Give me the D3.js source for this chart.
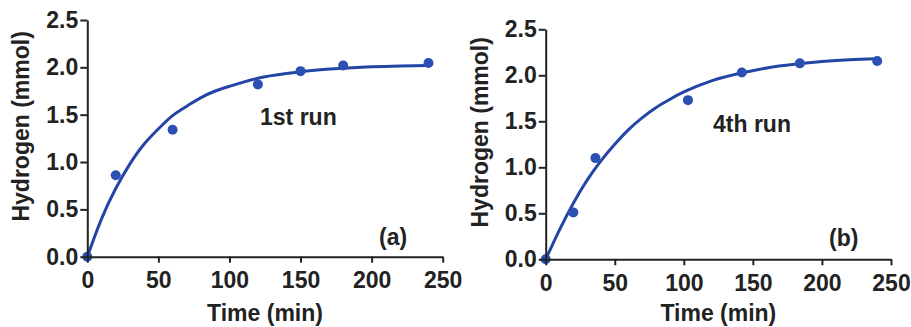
<!DOCTYPE html>
<html>
<head>
<meta charset="utf-8">
<script src="https://cdn.jsdelivr.net/npm/d3@7"></script>
<style>
  html, body { margin: 0; padding: 0; background: #fff; }
  svg { display: block; }
  text { font-family: "Liberation Sans", Arial, sans-serif; font-weight: bold; }
</style>
</head>
<body>
<svg id="chart" width="911" height="327"></svg>
<script>
// ---- Data ----
const xTicks = [0, 50, 100, 150, 200, 250];
const yTicks = [0.0, 0.5, 1.0, 1.5, 2.0, 2.5];
const xLabel = "Time (min)";
const yLabel = "Hydrogen (mmol)";

// Panel (a) - 1st run
const runATime = [0, 20, 60, 120, 150, 180, 240];
const runAH2   = [0, 0.86, 1.34, 1.82, 1.96, 2.02, 2.045];
const fitATime = [0, 10, 20, 30, 40, 50, 60, 70, 80, 90, 100, 120, 140, 160, 180, 200, 220, 240];
const fitAH2   = [0, 0.40, 0.72, 0.98, 1.19, 1.35, 1.49, 1.59, 1.68, 1.75, 1.80, 1.885, 1.935, 1.97, 1.99, 2.005, 2.014, 2.02];

// Panel (b) - 4th run
const runBTime = [0, 20, 36, 103, 142, 184, 240];
const runBH2   = [0, 0.51, 1.10, 1.73, 2.03, 2.13, 2.155];
const fitBTime = [0, 10, 20, 30, 40, 50, 60, 70, 80, 90, 100, 120, 140, 160, 180, 200, 220, 240];
const fitBH2   = [0, 0.32, 0.61, 0.86, 1.07, 1.25, 1.41, 1.54, 1.65, 1.74, 1.82, 1.94, 2.02, 2.08, 2.12, 2.15, 2.17, 2.18];

const panels = [
  { time: runATime, h2: runAH2, fitT: fitATime, fitH: fitAH2, label: "1st run", tag: "(a)",
    x0: 87.3, x1: 442.7, y0: 256.7, y1: 20, labelXY: [260, 125], tagXY: [379, 245] },
  { time: runBTime, h2: runBH2, fitT: fitBTime, fitH: fitBH2, label: "4th run", tag: "(b)",
    x0: 545.7, x1: 891, y0: 259.3, y1: 29.3, labelXY: [713, 131.7], tagXY: [829, 246] }
];

const svg = d3.select("#chart");
const axisColor = "#222";
const lineColor = "#2346a6";
const dotColor = "#2b4fb2";
const fontSize = "23px";

panels.forEach((p, i) => {
  const x = d3.scaleLinear().domain([0, 250]).range([p.x0, p.x1]);
  const y = d3.scaleLinear().domain([0, 2.5]).range([p.y0, p.y1]);
  const g = svg.append("g");

  // fitted curve
  const line = d3.line().x(d => x(d[0])).y(d => y(d[1])).curve(d3.curveNatural);
  g.append("path")
    .datum(p.fitT.map((t, j) => [t, p.fitH[j]]))
    .attr("d", line)
    .attr("fill", "none")
    .attr("stroke", lineColor)
    .attr("stroke-width", 3);

  // points
  g.selectAll("circle.pt")
    .data(p.time.map((t, j) => [t, p.h2[j]]))
    .join("circle")
    .attr("class", "pt")
    .attr("cx", d => x(d[0]))
    .attr("cy", d => y(d[1]))
    .attr("r", 5)
    .attr("fill", dotColor);

  // axes
  const xAxis = g.append("g")
    .attr("transform", `translate(0,${p.y0})`)
    .call(d3.axisBottom(x).tickValues(xTicks).tickSize(6).tickPadding(9).tickSizeOuter(0).tickFormat(d3.format("d")));
  const yAxis = g.append("g")
    .attr("transform", `translate(${p.x0},0)`)
    .call(d3.axisLeft(y).tickValues(yTicks).tickSize(7).tickPadding(2).tickSizeOuter(0).tickFormat(d3.format(".1f")));
  [xAxis, yAxis].forEach(a => {
    a.select(".domain").attr("stroke", axisColor).attr("stroke-width", 2);
    a.selectAll(".tick line").attr("stroke", axisColor).attr("stroke-width", 2);
    a.selectAll(".tick text").attr("fill", axisColor).style("font-size", fontSize)
      .style("font-family", "'Liberation Sans', Arial, sans-serif").style("font-weight", "bold");
  });

  // axis titles
  g.append("text")
    .attr("x", (p.x0 + p.x1) / 2)
    .attr("y", 321)
    .attr("text-anchor", "middle")
    .attr("fill", axisColor)
    .style("font-size", fontSize)
    .text(xLabel);
  const cy = (p.y0 + p.y1) / 2 - 12;
  const tx = p.x0 - 58;
  g.append("text")
    .attr("transform", `translate(${tx},${cy}) rotate(-90)`)
    .attr("text-anchor", "middle")
    .attr("fill", axisColor)
    .style("font-size", fontSize)
    .text(yLabel);

  // annotations
  g.append("text")
    .attr("x", p.labelXY[0])
    .attr("y", p.labelXY[1])
    .attr("fill", axisColor)
    .style("font-size", fontSize)
    .text(p.label);
  g.append("text")
    .attr("x", p.tagXY[0])
    .attr("y", p.tagXY[1])
    .attr("fill", axisColor)
    .style("font-size", fontSize)
    .text(p.tag);
});
</script>
</body>
</html>
